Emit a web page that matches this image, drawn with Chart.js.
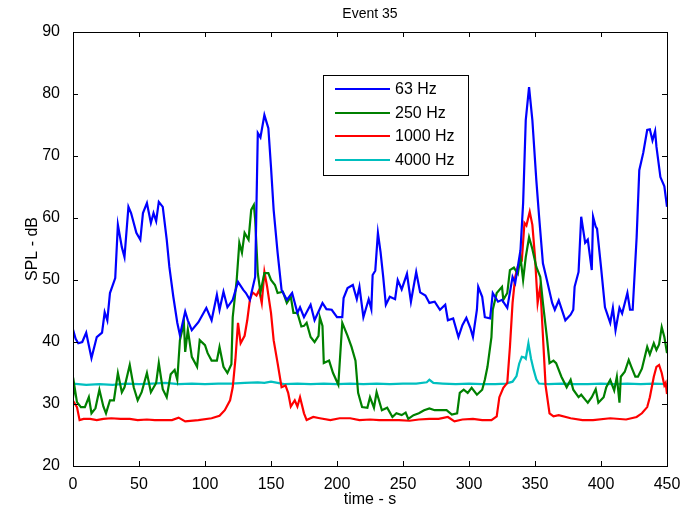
<!DOCTYPE html>
<html>
<head>
<meta charset="utf-8">
<script src="https://cdn.jsdelivr.net/npm/chart.js@4/dist/chart.umd.min.js"></script>
<style>
  html, body { margin: 0; padding: 0; background: #fff; }
  #wrap { width: 685px; height: 511px; }
</style>
</head>
<body>
<div id="wrap"><canvas id="myChart" width="685" height="511"></canvas></div>
<script>
const chartTitle = "Event 35";
const xTitle = "time - s";
const yTitle = "SPL - dB";
const labels = ["63 Hz", "250 Hz", "1000 Hz", "4000 Hz"];

// 63 Hz
const t63 = [0, 2, 4, 7, 10, 14, 18, 22, 24, 26, 28, 32, 34, 37, 39, 42, 44, 48, 51, 53, 56, 59, 61, 63, 65, 68, 71, 73, 76, 79, 81, 85, 87, 90, 95, 101, 105, 109, 111, 114, 117, 121, 125, 129, 131, 134, 138, 140, 142, 145, 148, 150, 152, 155, 158, 162, 166, 170, 172, 175, 180, 183, 189, 192, 196, 200, 204, 205, 208, 212, 215, 217, 220, 224, 226, 227, 229, 231, 233, 235, 237, 240, 244, 246, 249, 253, 256, 260, 263, 267, 270, 274, 278, 282, 284, 288, 292, 295, 298, 301, 303, 306, 307, 310, 312, 316, 318, 322, 325, 329, 333, 335, 339, 341, 343, 345.5, 348, 351, 353, 356, 359, 363, 365, 368, 373, 377, 379, 380, 383, 385, 388, 390, 393, 394, 396, 397, 400, 403, 407, 409, 411, 414, 416, 420, 422, 424, 427, 429, 432, 435, 437, 439, 441, 442, 445, 448, 450];
const v63 = [42, 40.5, 39.8, 40, 41.5, 37.4, 40.8, 41.5, 44.8, 43.5, 47.9, 50.3, 58.9, 55.3, 53.7, 61.8, 60.8, 57.6, 56.5, 60.8, 62.4, 59.2, 60.8, 59.5, 62.6, 61.8, 56.5, 52.1, 47.3, 43.1, 41.1, 44.9, 43.5, 41.9, 43.2, 45.5, 43.5, 47.6, 45.2, 48.1, 45.6, 46.8, 49.7, 48.4, 47.9, 46.8, 50.5, 73.7, 73, 76.6, 74.5, 68.2, 61.3, 54.4, 48.4, 46.8, 47.9, 44.7, 45.6, 44, 46, 43.5, 46.3, 45.3, 45.2, 44, 44, 47.1, 48.7, 49.2, 46.9, 48.9, 44, 46.9, 45.3, 50.8, 51.5, 57.6, 54.5, 50.5, 46, 47.3, 46.9, 50, 48.5, 51, 46.5, 51.3, 48, 47.5, 46.3, 46.5, 45.2, 46, 43.5, 43.8, 40.8, 42.7, 43.9, 42.3, 40.8, 45.2, 48.9, 47.3, 44, 43.8, 47.9, 46.5, 46.8, 45.5, 50.5, 49.5, 54.8, 62.4, 75.8, 81.1, 75.8, 66.1, 60.5, 52.7, 50, 46.3, 45.2, 46.7, 43.5, 44.4, 45.2, 48.9, 51.3, 60.2, 56, 56.5, 51.6, 60.2, 58.6, 58.3, 52.1, 45.6, 43.1, 45.5, 41.9, 45.5, 44.6, 47.9, 45.2, 45.2, 56.9, 67.7, 70.5, 74.2, 74.3, 72.5, 74, 71.5, 66.6, 65.1, 61.8];

// 250 Hz
const t250 = [0, 1, 3, 6, 9, 12, 14, 17, 20, 23, 25, 28, 31, 34, 37, 39, 43, 46, 49, 52, 56, 59, 63, 65, 68, 71, 74, 77, 79, 81, 84, 85, 87, 90, 94, 96, 100, 102, 105, 109, 111, 114, 117, 120, 121, 124, 126, 128, 130, 133, 135, 137, 138, 140, 142, 145, 148, 150, 153, 155, 159, 162, 165, 167, 170, 173, 175, 177, 180, 183, 186, 187, 189, 190, 194, 197, 201, 204, 208, 211, 214, 216, 219, 223, 225, 228, 230, 234, 238, 242, 245, 249, 252, 254, 258, 262, 266, 270, 274, 280, 283, 287, 291, 293, 296, 299, 302, 306, 310, 312, 314, 317, 318, 321, 325, 326, 329, 331, 334, 337, 339, 341, 343, 345.5, 348, 351, 354, 356, 359, 361, 364, 366, 370, 374, 377, 379, 383, 385, 388, 390, 393, 396, 398, 402, 404, 407, 410, 412, 414, 415, 418, 421, 423, 426, 428, 431, 435, 437, 440, 442, 444, 446, 448, 450];
const v250 = [31, 33, 30.3, 29.5, 29.5, 31.1, 28.5, 29.3, 32.3, 29.6, 28.5, 30.6, 30.6, 35, 31.9, 32.7, 36.3, 32.7, 30.6, 31.9, 35, 31.9, 33.4, 36.6, 32.4, 31.1, 34.8, 35.5, 33.9, 40.3, 43.1, 38.4, 42, 37.6, 36, 40.3, 39.5, 38.2, 37, 37, 39.2, 36, 35, 36.4, 44, 50, 56, 54.4, 57.6, 56.5, 61.3, 62.1, 59.8, 51.1, 48, 51.1, 51.1, 50, 49.2, 47.9, 48.1, 46.3, 47.3, 44.7, 44.7, 42.5, 42.6, 43.1, 40.8, 40, 41, 44, 42.6, 36.6, 37, 35, 33.1, 43.1, 41, 39.2, 37, 31.8, 29.5, 29.4, 31.1, 29.4, 31.9, 29, 29.4, 27.9, 28.5, 28.2, 28.6, 27.6, 28.2, 28.5, 29, 29.3, 29, 29, 29, 28.3, 28.5, 31.8, 32.3, 31.8, 32.6, 31.5, 32.3, 33.9, 36, 40.8, 45.2, 47.9, 48.9, 46.8, 47.9, 51.6, 52, 51, 53.7, 50, 53.7, 56.9, 55, 52.1, 50.5, 46.3, 40.8, 36.6, 37, 36.6, 34.4, 32.7, 33.9, 32.3, 31.1, 31.5, 30.7, 30.2, 31.1, 32.4, 30.2, 31.1, 32.7, 33.9, 32.2, 34.4, 30.2, 34.4, 35.2, 37.1, 36, 34.4, 34.4, 35.7, 39.2, 38, 39.8, 38.7, 39.6, 42.4, 40.8, 38.2];

// 1000 Hz
const t1000 = [0, 1, 3, 5, 8, 13, 18, 23, 29, 36, 43, 49, 56, 62, 69, 75, 80, 85, 95, 105, 111, 115, 119, 121, 123, 125, 127, 130, 132, 134, 136, 139, 141, 143, 145, 147, 150, 152, 155, 158, 161, 163, 165, 168, 170, 172, 175, 177, 182, 187, 195, 202, 210, 217, 225, 232, 240, 247, 255, 262, 270, 277, 284, 289, 295, 303, 310, 317, 321, 323, 326, 329, 331, 333, 335, 337, 340, 342, 343.5, 346, 348, 350, 352, 354, 356, 358, 361, 364, 368, 377, 386, 394, 407, 419, 427, 431, 435, 437, 440, 442, 444, 446, 448, 449, 450];
const v1000 = [30.5, 30.2, 29.5, 27.4, 27.6, 27.6, 27.4, 27.6, 27.7, 27.6, 27.6, 27.4, 27.5, 27.4, 27.4, 27.4, 27.8, 27.2, 27.4, 27.7, 28.1, 29, 30.6, 32.7, 37.1, 43.1, 39.8, 41, 43.5, 46.8, 48, 47.5, 48.4, 46.3, 51.3, 49, 44.7, 40.3, 36.6, 32.7, 33, 31.8, 29.6, 30.6, 29.6, 31.1, 28.5, 27.4, 27.9, 27.7, 27.4, 27.7, 27.7, 27.4, 27.5, 27.4, 27.4, 27.4, 27.3, 27.5, 27.6, 27.6, 27.9, 27.2, 27.5, 27.6, 27.4, 27.4, 28, 31.1, 32.6, 33.4, 39.2, 46.3, 50.5, 52.2, 53.1, 59.2, 58.8, 61, 58.9, 53.7, 46.3, 49, 41, 33, 28.5, 28, 28.2, 27.7, 27.4, 27.4, 27.7, 27.5, 27.9, 28.5, 29.5, 31.1, 34.4, 36, 36.3, 35, 33, 33.4, 31.6];

// 4000 Hz
const t4000 = [0, 10, 20, 30, 40, 50, 60, 70, 80, 90, 100, 110, 120, 130, 140, 145, 150, 155, 160, 170, 180, 190, 200, 210, 220, 230, 240, 250, 260, 268, 270, 273, 280, 290, 300, 310, 320, 328, 333, 336, 338, 340, 342, 343, 345, 347, 349, 351, 353, 360, 370, 380, 390, 400, 410, 420, 430, 440, 450];
const v4000 = [33.3, 33.1, 33.2, 33.1, 33.3, 33.2, 33.3, 33.4, 33.2, 33.3, 33.2, 33.3, 33.3, 33.4, 33.5, 33.4, 33.6, 33.4, 33.2, 33.3, 33.2, 33.3, 33.2, 33.3, 33.2, 33.3, 33.2, 33.3, 33.3, 33.5, 33.9, 33.4, 33.3, 33.2, 33.3, 33.2, 33.2, 33.3, 33.6, 34.5, 36.5, 37.6, 37.5, 37.3, 39.8, 37.3, 35.5, 34, 33.3, 33.2, 33.3, 33.2, 33.2, 33.3, 33.2, 33.3, 33.2, 33.3, 33.2];

const colors = ["rgb(0, 0, 255)", "rgb(0, 128, 0)", "rgb(255, 0, 0)", "rgb(0, 191, 191)"];

function pts(ts, vs) {
  return ts.map((t, i) => ({ x: t, y: vs[i] }));
}

const series = [pts(t63, v63), pts(t250, v250), pts(t1000, v1000), pts(t4000, v4000)];

const FONT = "'Liberation Sans', Arial, sans-serif";

const data = {
  datasets: series.map((d, i) => ({
    label: labels[i],
    data: d,
    borderColor: colors[i],
    backgroundColor: colors[i],
    borderWidth: 2.2,
    pointRadius: 0,
    tension: 0,
  })),
};

// box, inward ticks on all sides, title, legend with frame
const matlabPlot = {
  id: "matlabPlot",
  afterDraw(chart) {
    const ctx = chart.ctx;
    const a = chart.chartArea;
    const xs = chart.scales.x;
    const ys = chart.scales.y;
    const tl = 5;
    ctx.save();
    ctx.strokeStyle = "#000";
    ctx.lineWidth = 1;
    ctx.beginPath();
    xs.ticks.forEach((t) => {
      const px = Math.round(xs.getPixelForValue(t.value)) + 0.5;
      ctx.moveTo(px, a.bottom);
      ctx.lineTo(px, a.bottom - tl);
      ctx.moveTo(px, a.top);
      ctx.lineTo(px, a.top + tl);
    });
    ys.ticks.forEach((t) => {
      const py = Math.round(ys.getPixelForValue(t.value)) + 0.5;
      ctx.moveTo(a.left, py);
      ctx.lineTo(a.left + tl, py);
      ctx.moveTo(a.right, py);
      ctx.lineTo(a.right - tl, py);
    });
    ctx.stroke();
    ctx.strokeRect(Math.round(a.left) + 0.5, Math.round(a.top) + 0.5, Math.round(a.right - a.left), Math.round(a.bottom - a.top));

    // title
    ctx.fillStyle = "#000";
    ctx.font = "14px " + FONT;
    ctx.textAlign = "center";
    ctx.textBaseline = "middle";
    ctx.fillText(chartTitle, (a.left + a.right) / 2, 14);

    // legend
    ctx.font = "16px " + FONT;
    const lx = 323.5, ly = 75.5, lw = 145, lh = 100;
    ctx.fillStyle = "#fff";
    ctx.fillRect(lx, ly, lw, lh);
    ctx.strokeRect(lx, ly, lw, lh);
    const rows = [89, 113, 136, 160];
    chart.data.datasets.forEach((ds, i) => {
      ctx.strokeStyle = ds.borderColor;
      ctx.lineWidth = 2.2;
      ctx.beginPath();
      ctx.moveTo(335, rows[i]);
      ctx.lineTo(390, rows[i]);
      ctx.stroke();
      ctx.fillStyle = "#000";
      ctx.textAlign = "left";
      ctx.fillText(ds.label, 395, rows[i] + 1);
    });
    ctx.restore();
  },
};

const config = {
  type: "line",
  data,
  options: {
    responsive: false,
    animation: false,
    layout: { padding: { left: 0, right: 18, top: 32, bottom: 0 } },
    plugins: {
      legend: { display: false },
      tooltip: { enabled: false },
    },
    scales: {
      x: {
        type: "linear",
        min: 0,
        max: 450,
        ticks: { stepSize: 50, color: "#000", padding: 1, font: { family: FONT, size: 16 }, maxRotation: 0 },
        grid: { display: false },
        border: { display: false },
        title: { display: true, text: xTitle, color: "#000", font: { family: FONT, size: 16 }, padding: { top: 0, bottom: 2 } },
        afterFit: (s) => { s.height = 45; },
      },
      y: {
        min: 20,
        max: 90,
        ticks: { stepSize: 10, color: "#000", padding: 5, font: { family: FONT, size: 16 } },
        grid: { display: false },
        border: { display: false },
        title: { display: true, text: yTitle, color: "#000", font: { family: FONT, size: 16 }, padding: { top: 23, bottom: 0 } },
        afterFit: (s) => { s.width = 73; },
      },
    },
  },
  plugins: [matlabPlot],
};

const myChart = new Chart(document.getElementById("myChart"), config);
</script>
</body>
</html>
